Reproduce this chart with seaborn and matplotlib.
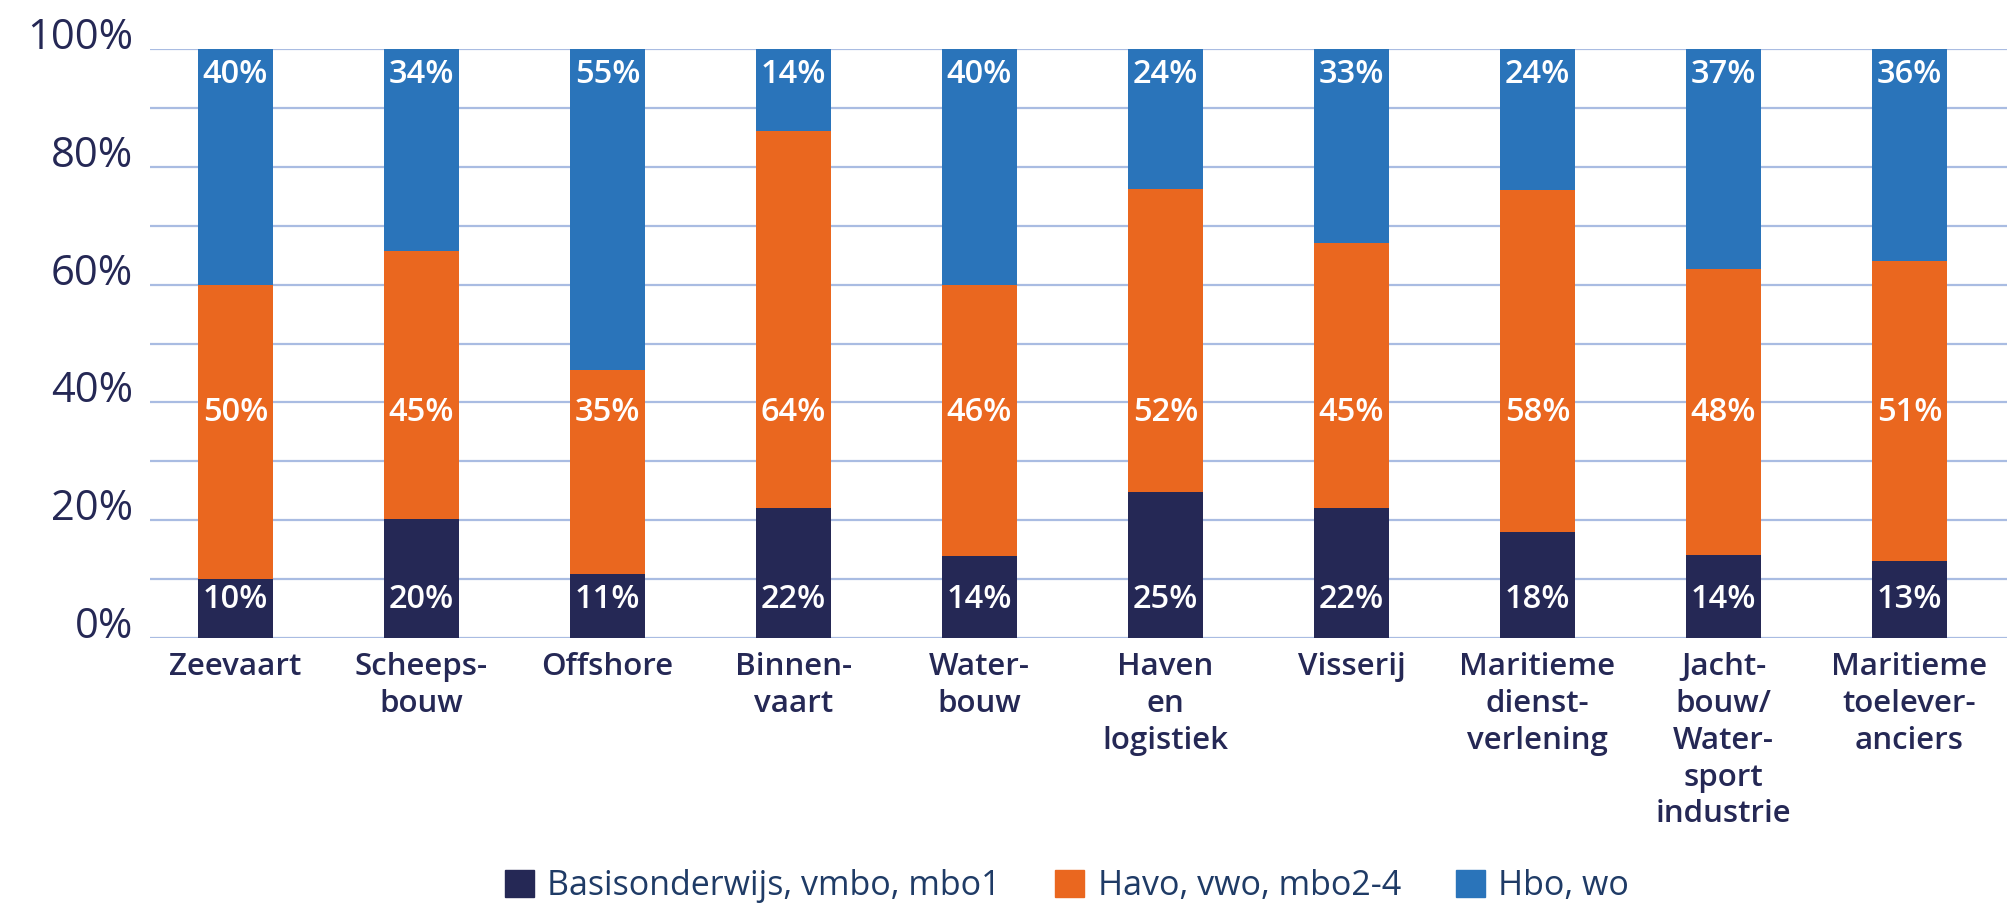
import matplotlib
matplotlib.use('Agg')
import matplotlib.pyplot as plt
import seaborn as sns
import pandas as pd
from matplotlib.patches import Patch
from matplotlib.ticker import MultipleLocator, FuncFormatter

# data
sectors = ['Zeevaart', 'Scheeps-\nbouw', 'Offshore', 'Binnen-\nvaart', 'Water-\nbouw',
           'Haven\nen\nlogistiek', 'Visserij', 'Maritieme\ndienst-\nverlening',
           'Jacht-\nbouw/\nWater-\nsport\nindustrie', 'Maritieme\ntoelever-\nanciers']
basis = [10, 20, 11, 22, 14, 25, 22, 18, 14, 13]
havo = [50, 45, 35, 64, 46, 52, 45, 58, 48, 51]
hbo = [40, 34, 55, 14, 40, 24, 33, 24, 37, 36]
series = ['Basisonderwijs, vmbo, mbo1', 'Havo, vwo, mbo2-4', 'Hbo, wo']

NAVY = '#252855'
ORANGE = '#EA671F'
BLUE = '#2A74BA'
GRID = '#A9BCE2'

sns.set_style('white')
plt.rcParams['font.family'] = ['Open Sans', 'DejaVu Sans']

df = pd.DataFrame({'sector': sectors, 'basis': basis, 'havo': havo, 'hbo': hbo})
# 100% stacked: scale each column to its total
tot = df[['basis', 'havo', 'hbo']].sum(axis=1)
df['c1'] = df['basis'] / tot * 100
df['c2'] = (df['basis'] + df['havo']) / tot * 100
df['c3'] = 100.0

fig = plt.figure(figsize=(20.08, 9.08), dpi=100)
ax = fig.add_axes([150 / 2008, 1 - 638 / 908, 1 - 150 / 2008, (638 - 49) / 908])

for col, c in [('c3', BLUE), ('c2', ORANGE), ('c1', NAVY)]:
    sns.barplot(data=df, x='sector', y=col, order=sectors, color=c, saturation=1,
                width=0.4, ax=ax, zorder=3, linewidth=0)

# labels inside the bars (fixed heights like the original)
for i in range(len(sectors)):
    for val, y in [(basis[i], 6.6), (havo[i], 38.3), (hbo[i], 95.7)]:
        ax.text(i, y, f'{val}%', ha='center', va='center', color='white',
                fontsize=23.5, fontweight='semibold', zorder=5)

ax.set_xlim(-0.46, 9.53)
ax.set_ylim(0, 100)
ax.yaxis.set_major_locator(MultipleLocator(20))
ax.yaxis.set_minor_locator(MultipleLocator(10))
ax.yaxis.set_major_formatter(FuncFormatter(lambda v, p: f'{v:.0f}%'))
ax.grid(axis='y', which='both', color=GRID, linewidth=1.6, zorder=0)
ax.grid(axis='x', visible=False)
ax.tick_params(axis='y', which='both', length=0, pad=12, labelsize=30, labelcolor=NAVY)
ax.tick_params(axis='x', length=0, pad=10, labelsize=22.5, labelcolor=NAVY)
for lab in ax.get_yticklabels():
    lab.set_verticalalignment('baseline')
for lab in ax.get_xticklabels():
    lab.set_fontweight('semibold')
    lab.set_linespacing(1.3)
ax.set_xlabel('')
ax.set_ylabel('')
sns.despine(ax=ax, left=True, bottom=True, top=True, right=True)

handles = [Patch(color=NAVY), Patch(color=ORANGE), Patch(color=BLUE)]
leg = fig.legend(handles, series, loc='center', bbox_to_anchor=(1067 / 2008, 1 - 886 / 908),
                 ncol=3, frameon=False, fontsize=24.5, handlelength=0.85, handleheight=0.85,
                 handletextpad=0.4, columnspacing=1.6)
for t in leg.get_texts():
    t.set_color('#1F3B66')

fig.savefig('out.png', dpi=100)
